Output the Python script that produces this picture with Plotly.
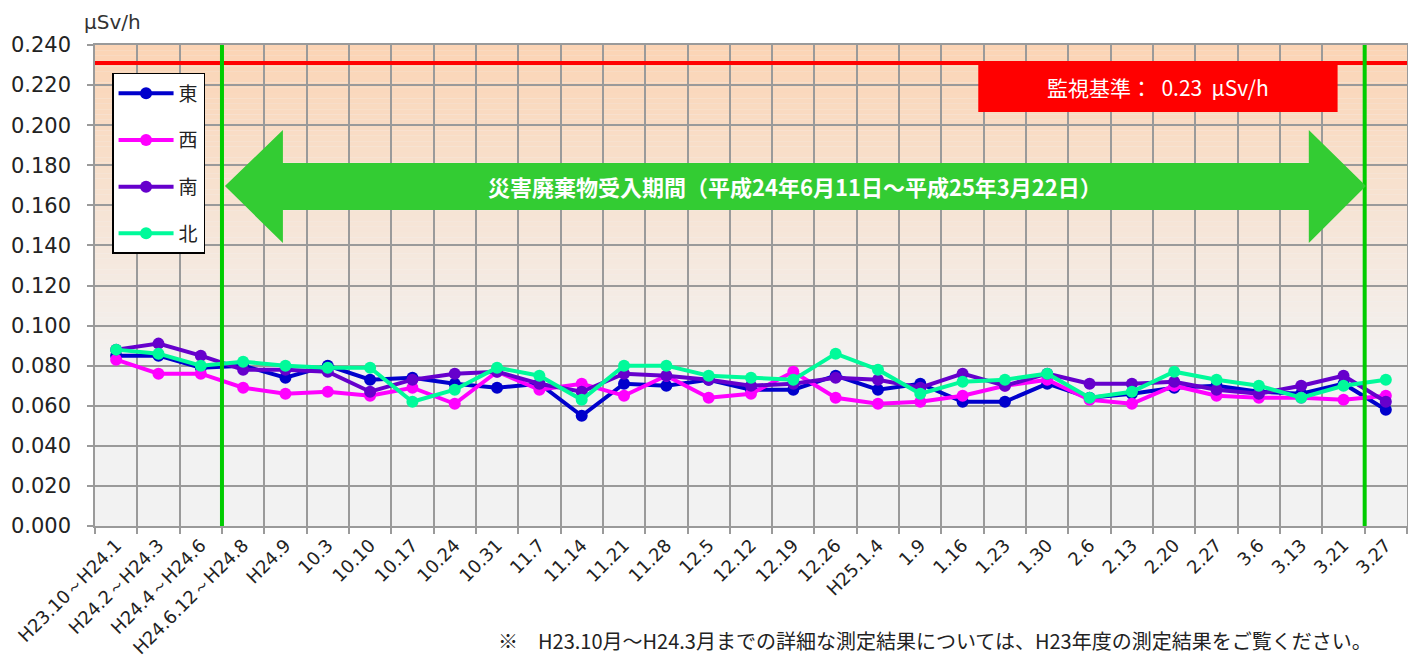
import plotly.graph_objects as go

categories = ["H23.10～H24.1", "H24.2～H24.3", "H24.4～H24.6", "H24.6.12～H24.8", "H24.9",
              "10.3", "10.10", "10.17", "10.24", "10.31", "11.7", "11.14", "11.21", "11.28",
              "12.5", "12.12", "12.19", "12.26", "H25.1.4", "1.9", "1.16", "1.23", "1.30",
              "2.6", "2.13", "2.20", "2.27", "3.6", "3.13", "3.21", "3.27"]

east = [0.085, 0.085, 0.079, 0.080, 0.074, 0.080, 0.073, 0.074, 0.071, 0.069, 0.071, 0.055,
        0.071, 0.070, 0.073, 0.068, 0.068, 0.075, 0.068, 0.071, 0.062, 0.062, 0.071, 0.064,
        0.066, 0.069, 0.070, 0.067, 0.066, 0.071, 0.058]
west = [0.083, 0.076, 0.076, 0.069, 0.066, 0.067, 0.065, 0.069, 0.061, 0.077, 0.068, 0.071,
        0.065, 0.075, 0.064, 0.066, 0.077, 0.064, 0.061, 0.062, 0.065, 0.070, 0.073, 0.063,
        0.061, 0.070, 0.065, 0.064, 0.064, 0.063, 0.065]
south = [0.088, 0.091, 0.085, 0.078, 0.078, 0.077, 0.067, 0.073, 0.076, 0.077, 0.071, 0.067,
         0.076, 0.075, 0.073, 0.070, 0.071, 0.074, 0.073, 0.069, 0.076, 0.070, 0.076, 0.071,
         0.071, 0.072, 0.068, 0.066, 0.070, 0.075, 0.062]
north = [0.088, 0.086, 0.080, 0.082, 0.080, 0.079, 0.079, 0.062, 0.068, 0.079, 0.075, 0.063,
         0.080, 0.080, 0.075, 0.074, 0.073, 0.086, 0.078, 0.066, 0.072, 0.073, 0.076, 0.064,
         0.067, 0.077, 0.073, 0.070, 0.064, 0.070, 0.073]

series = [("東", east, "#0000CC"), ("西", west, "#FF00FF"),
          ("南", south, "#6600CC"), ("北", north, "#00FA9A")]

threshold = 0.231
period_start, period_end = 2.5, 29.5

fig = go.Figure()
for name, vals, col in series:
    fig.add_trace(go.Scatter(
        x=categories, y=vals, name=name, legendgroup=name, mode="lines+markers",
        line=dict(color=col, width=4), marker=dict(color=col, size=12)))

shapes = []
# background gradient (peach at top -> light gray)
top_c = (251, 212, 180)
bot_c = (242, 242, 242)
n = 60
y0g, y1g = 0.08, 0.24
shapes.append(dict(type="rect", xref="paper", yref="y", x0=0, x1=1, y0=0, y1=y0g,
                   fillcolor="#F2F2F2", line=dict(width=0), layer="below"))
for i in range(n):
    a = y0g + (y1g - y0g) * i / n
    b = y0g + (y1g - y0g) * (i + 1) / n
    t = (i + 0.5) / n
    c = tuple(int(round(bot_c[k] + (top_c[k] - bot_c[k]) * t)) for k in range(3))
    shapes.append(dict(type="rect", xref="paper", yref="y", x0=0, x1=1, y0=a, y1=b,
                       fillcolor="rgb(%d,%d,%d)" % c, line=dict(width=0), layer="below"))

# threshold red line
shapes.append(dict(type="line", xref="paper", yref="y", x0=0, x1=1, y0=threshold, y1=threshold,
                   line=dict(color="#FF0000", width=4)))
# green vertical lines
for xv in (period_start, period_end):
    shapes.append(dict(type="line", xref="x", yref="paper", x0=xv, x1=xv, y0=0, y1=1,
                       line=dict(color="#00CC00", width=4)))
# double arrow
ax0, ax1, ax2, ax3 = 2.57, 3.94, 28.18, 29.53
yc, ys0, ys1, yh0, yh1 = 0.1696, 0.1577, 0.1811, 0.1412, 0.1976
path = ("M %f,%f L %f,%f L %f,%f L %f,%f L %f,%f L %f,%f L %f,%f L %f,%f L %f,%f L %f,%f Z" %
        (ax0, yc, ax1, yh1, ax1, ys1, ax2, ys1, ax2, yh1, ax3, yc, ax2, yh0, ax2, ys0,
         ax1, ys0, ax1, yh0))
shapes.append(dict(type="path", xref="x", yref="y", path=path,
                   fillcolor="#33CC33", line=dict(width=0)))
# red label box
shapes.append(dict(type="rect", xref="x", yref="y", x0=20.37, x1=28.86, y0=0.2066, y1=threshold,
                   fillcolor="#FF0000", line=dict(width=0)))

annotations = [
    dict(text="<b>災害廃棄物受入期間（平成24年6月11日～平成25年3月22日）</b>", xref="x", yref="y",
         x=(ax0 + ax3) / 2, y=yc, showarrow=False,
         font=dict(color="white", size=22, family="Noto Sans CJK JP")),
    dict(text="監視基準：  0.23  μSv/h", xref="x", yref="y", x=(20.37 + 28.86) / 2,
         y=(0.2066 + threshold) / 2, showarrow=False,
         font=dict(color="white", size=21, family="Noto Sans CJK JP")),
    dict(text="μSv/h", xref="paper", yref="paper", x=-0.01, y=1.0, yshift=37,
         xanchor="left", yanchor="top", showarrow=False,
         font=dict(color="#333333", size=20, family="DejaVu Sans")),
    dict(text="※　H23.10月～H24.3月までの詳細な測定結果については、H23年度の測定結果をご覧ください。",
         xref="paper", yref="paper", x=0.975, y=0, yshift=-114, xanchor="right", yanchor="middle",
         showarrow=False, font=dict(color="#222222", size=20, family="Noto Sans CJK JP")),
]

fig.update_layout(
    width=1408, height=660,
    margin=dict(l=87, r=9, t=37, b=142),
    paper_bgcolor="white", plot_bgcolor="#F2F2F2",
    shapes=shapes, annotations=annotations,
    font=dict(family="DejaVu Sans", color="#222222"),
    legend=dict(x=0.013, y=0.942, xanchor="left", yanchor="top",
                bgcolor="white", bordercolor="black", borderwidth=1.5,
                font=dict(size=19, family="Noto Sans CJK JP", color="#222222"),
                tracegroupgap=19, itemwidth=55),
    showlegend=True,
)
fig.update_xaxes(type="category", range=[-0.5, 30.5], tickson="boundaries", automargin=False,
                 showgrid=True, gridcolor="#9A9A9A", gridwidth=1.5,
                 ticks="outside", ticklen=6, tickcolor="#9A9A9A", tickwidth=1.5,
                 showline=True, linecolor="#9A9A9A", linewidth=1.5, mirror=True,
                 tickangle=-45, tickfont=dict(size=18, family="DejaVu Sans", color="#222222"))
fig.update_yaxes(range=[0, 0.24], dtick=0.02, tickformat=".3f", automargin=False,
                 showgrid=True, gridcolor="#9A9A9A", gridwidth=1.5,
                 ticks="outside", ticklen=6, tickcolor="#9A9A9A", tickwidth=1.5,
                 showline=True, linecolor="#9A9A9A", linewidth=1.5, mirror=True,
                 zeroline=False, ticklabelstandoff=12,
                 tickfont=dict(size=21, family="DejaVu Sans", color="#222222"))

fig.write_html("out.html")
